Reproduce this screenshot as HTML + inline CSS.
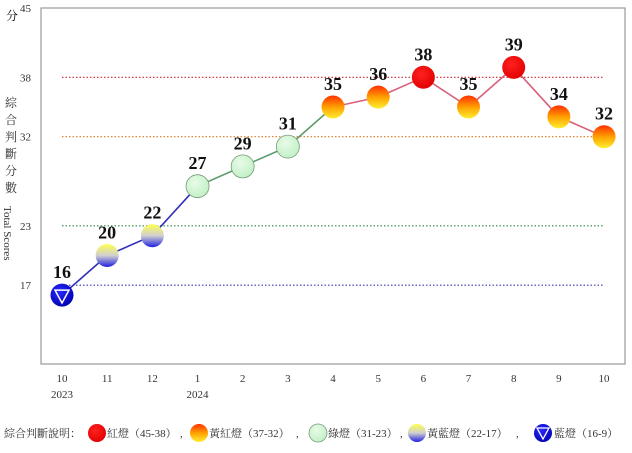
<!DOCTYPE html>
<html><head><meta charset="utf-8"><style>
body{margin:0;background:#fff;}
svg text{font-family:"Liberation Serif","Noto Serif CJK SC",serif;}
</style></head><body>
<svg id="chart" width="632" height="448" viewBox="0 0 632 448" xmlns="http://www.w3.org/2000/svg">
<defs>
<radialGradient id="gRed" cx="0.4" cy="0.35" r="0.7"><stop offset="0" stop-color="#ff2020"/><stop offset="1" stop-color="#e00000"/></radialGradient>
<linearGradient id="gYR" x1="0" y1="0" x2="0" y2="1"><stop offset="0" stop-color="#ff3000"/><stop offset="0.5" stop-color="#ffa000"/><stop offset="1" stop-color="#ffee30"/></linearGradient>
<radialGradient id="gGreen" cx="0.4" cy="0.35" r="0.7"><stop offset="0" stop-color="#e8fbe8"/><stop offset="1" stop-color="#bff0c4"/></radialGradient>
<linearGradient id="gYB" x1="0" y1="0" x2="0" y2="1"><stop offset="0" stop-color="#ffff50"/><stop offset="0.5" stop-color="#d0d0d0"/><stop offset="1" stop-color="#2020e0"/></linearGradient>
<radialGradient id="gBlue" cx="0.4" cy="0.35" r="0.7"><stop offset="0" stop-color="#2a2aff"/><stop offset="1" stop-color="#0000b0"/></radialGradient>
</defs>
<rect x="41" y="8" width="584" height="356" fill="#fff" stroke="#999" stroke-width="1.2"/>
<g id="refs"></g>
<g id="lines"></g>
<g id="marks"></g>
<g id="axes"></g>
<text x="6" y="20" font-size="12">分</text>
<g font-size="12" fill="#333">
<text x="5" y="107">綜</text><text x="5" y="124">合</text><text x="5" y="141">判</text><text x="5" y="158">斷</text><text x="5" y="175">分</text><text x="5" y="192">數</text>
<text transform="translate(4,206) rotate(90)" font-size="11">Total Scores</text>
</g>
<g font-size="11" fill="#333">
<text x="4" y="437">綜合判斷說明：</text>
<circle cx="97" cy="433" r="9" fill="url(#gRed)"/>
<text x="107" y="437">紅燈（45-38）</text><text x="180" y="437">,</text>
<circle cx="199" cy="433" r="9" fill="url(#gYR)"/>
<text x="209" y="437">黃紅燈（37-32）</text><text x="296" y="437">,</text>
<circle cx="318" cy="433" r="9" fill="url(#gGreen)" stroke="#7a9a7a" stroke-width="0.8"/>
<text x="328" y="437">綠燈（31-23）</text><text x="400" y="437">,</text>
<circle cx="417" cy="433" r="9" fill="url(#gYB)"/>
<text x="427" y="437">黃藍燈（22-17）</text><text x="516" y="437">,</text>
<circle cx="543" cy="433" r="9" fill="url(#gBlue)"/>
<path d="M537,428 L549,428 L543,439 Z" fill="none" stroke="#fff" stroke-width="1.3"/>
<text x="554" y="437">藍燈（16-9）</text>
</g>
</svg>
<script>
var months=["10","11","12","1","2","3","4","5","6","7","8","9","10"];
var years=["2023","","","2024","","","","","","","","",""];
var scores=[16,20,22,27,29,31,35,36,38,35,39,34,32];
var yTicks=[45,38,32,23,17];
var refValues=[38,32,23,17];
var refColors=["#cc2233","#e07a20","#2a8a3a","#3333bb"];
(function(){
var NS="http://www.w3.org/2000/svg";
function px(i){return 62+i*45.17;}
function py(v){return 8+(45-v)*9.9;}
function mk(t,a,p){var e=document.createElementNS(NS,t);for(var k in a)e.setAttribute(k,a[k]);p.appendChild(e);return e;}
var gRefs=document.getElementById('refs'),gLines=document.getElementById('lines'),gMarks=document.getElementById('marks'),gAxes=document.getElementById('axes');
refValues.forEach(function(v,i){var l=mk('line',{x1:62,x2:604,y1:py(v),y2:py(v),stroke:refColors[i],'stroke-width':1.2,'stroke-dasharray':'1.5,2'},gRefs);

});
yTicks.forEach(function(v){var t=mk('text',{x:20,y:py(v)+4,'font-size':11,fill:'#333'},gAxes);t.textContent=v;

});
months.forEach(function(m,i){var t=mk('text',{x:px(i),y:382,'font-size':11,'text-anchor':'middle',fill:'#333'},gAxes);t.textContent=m;


if(years[i]){var yt=mk('text',{x:px(i),y:398,'font-size':11,'text-anchor':'middle',fill:'#333'},gAxes);yt.textContent=years[i];

}});
function cat(v){return v>=38?'red':v>=32?'yr':v>=23?'green':v>=17?'yb':'blue';}
var lineCol={red:'#d8607a',yr:'#d8607a',green:'#5a9a6a',yb:'#3030b8',blue:'#3030b8'};
for(var i=0;i<scores.length-1;i++){var c=cat(Math.min(scores[i],scores[i+1]));
var l=mk('line',{x1:px(i),y1:py(scores[i]),x2:px(i+1),y2:py(scores[i+1]),stroke:lineCol[c],'stroke-width':1.6},gLines);

}
var fills={red:'url(#gRed)',yr:'url(#gYR)',green:'url(#gGreen)',yb:'url(#gYB)',blue:'url(#gBlue)'};
scores.forEach(function(v,i){var c=cat(v);var cx=px(i),cy=py(v);
var g=mk('g',{},gMarks);


mk('circle',{cx:cx,cy:cy,r:11.5,fill:fills[c],stroke:c=='green'?'#7a9a7a':'none','stroke-width':0.8},g);
if(c=='blue')mk('path',{d:'M'+(cx-7)+','+(cy-5)+' L'+(cx+7)+','+(cy-5)+' L'+cx+','+(cy+8)+' Z',fill:'none',stroke:'#fff','stroke-width':1.5},g);
var t=mk('text',{x:cx,y:cy-17,'font-size':18,'font-weight':'bold','text-anchor':'middle',fill:'#111'},g);t.textContent=v;});
})();
</script>
</body></html>
